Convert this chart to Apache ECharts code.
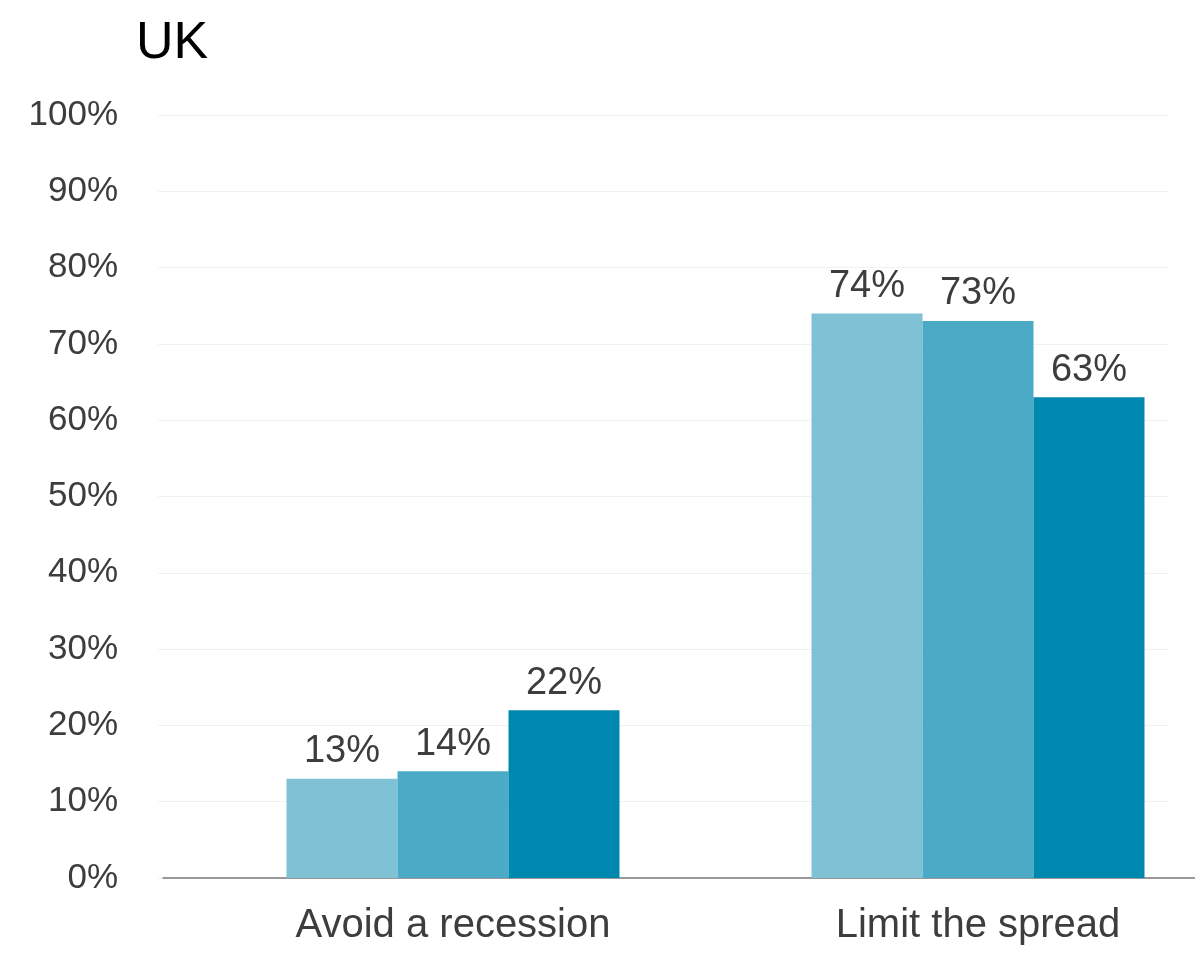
<!DOCTYPE html>
<html>
<head>
<meta charset="utf-8">
<script src="https://cdn.jsdelivr.net/npm/echarts@6/dist/echarts.min.js"></script>
<style>
  html, body { margin: 0; padding: 0; background: #ffffff; }
  #chart { width: 1195px; height: 954px; }
</style>
</head>
<body>
<div id="chart"></div>
<script>
// Share of respondents choosing each priority, UK
const categories = ['Avoid a recession', 'Limit the spread'];
const seriesA = [13, 74];
const seriesB = [14, 73];
const seriesC = [22, 63];
const yTicks = [0, 10, 20, 30, 40, 50, 60, 70, 80, 90, 100];

const colors = ['#7fc2d5', '#4babc6', '#0089b0'];
const FONT = '"Liberation Sans", Arial, sans-serif';
const textColor = '#3d3d3d';

const chart = echarts.init(document.getElementById('chart'));

function barSeries(name, data, color) {
  return {
    name: name,
    type: 'bar',
    xAxisIndex: 2,
    yAxisIndex: 2,
    data: data,
    barWidth: 111,
    barGap: '0%',
    itemStyle: { color: color },
    label: {
      show: true,
      position: 'top',
      distance: 8,
      formatter: '{c}%',
      fontFamily: FONT,
      fontSize: 38,
      color: textColor
    }
  };
}

chart.setOption({
  animation: false,
  backgroundColor: '#ffffff',
  title: {
    text: 'UK',
    left: 131,
    top: 13,
    textStyle: { fontFamily: FONT, fontSize: 52, fontWeight: 'normal', color: '#000000' }
  },
  grid: [
    // gridlines and y labels
    { left: 158, right: 27, top: 115, bottom: 76 },
    // baseline
    { left: 163, right: 0, top: 115, bottom: 76 },
    // bars and category labels: category points at the grid edges
    { left: 453, width: 525, top: 115, bottom: 76 }
  ],
  xAxis: [
    { gridIndex: 0, type: 'category', data: categories, show: false },
    {
      gridIndex: 1, type: 'category', data: categories,
      axisLine: { show: true, lineStyle: { color: '#7a7a7a', width: 1.5 } },
      axisTick: { show: false }, axisLabel: { show: false }, splitLine: { show: false }
    },
    {
      gridIndex: 2, type: 'category', data: categories, boundaryGap: false,
      axisLine: { show: false }, axisTick: { show: false },
      axisLabel: { fontFamily: FONT, fontSize: 40, color: textColor, margin: 28, interval: 0 }
    }
  ],
  yAxis: [
    {
      gridIndex: 0, type: 'value', min: yTicks[0], max: yTicks[yTicks.length - 1], interval: 10,
      axisLine: { show: false }, axisTick: { show: false },
      axisLabel: { formatter: '{value}%', fontFamily: FONT, fontSize: 35, color: textColor, margin: 40 },
      splitLine: { lineStyle: { color: '#f1f1f1', width: 1 } }
    },
    { gridIndex: 1, type: 'value', min: 0, max: 100, show: false },
    { gridIndex: 2, type: 'value', min: 0, max: 100, show: false }
  ],
  series: [
    barSeries('A', seriesA, colors[0]),
    barSeries('B', seriesB, colors[1]),
    barSeries('C', seriesC, colors[2])
  ]
});
</script>
</body>
</html>
